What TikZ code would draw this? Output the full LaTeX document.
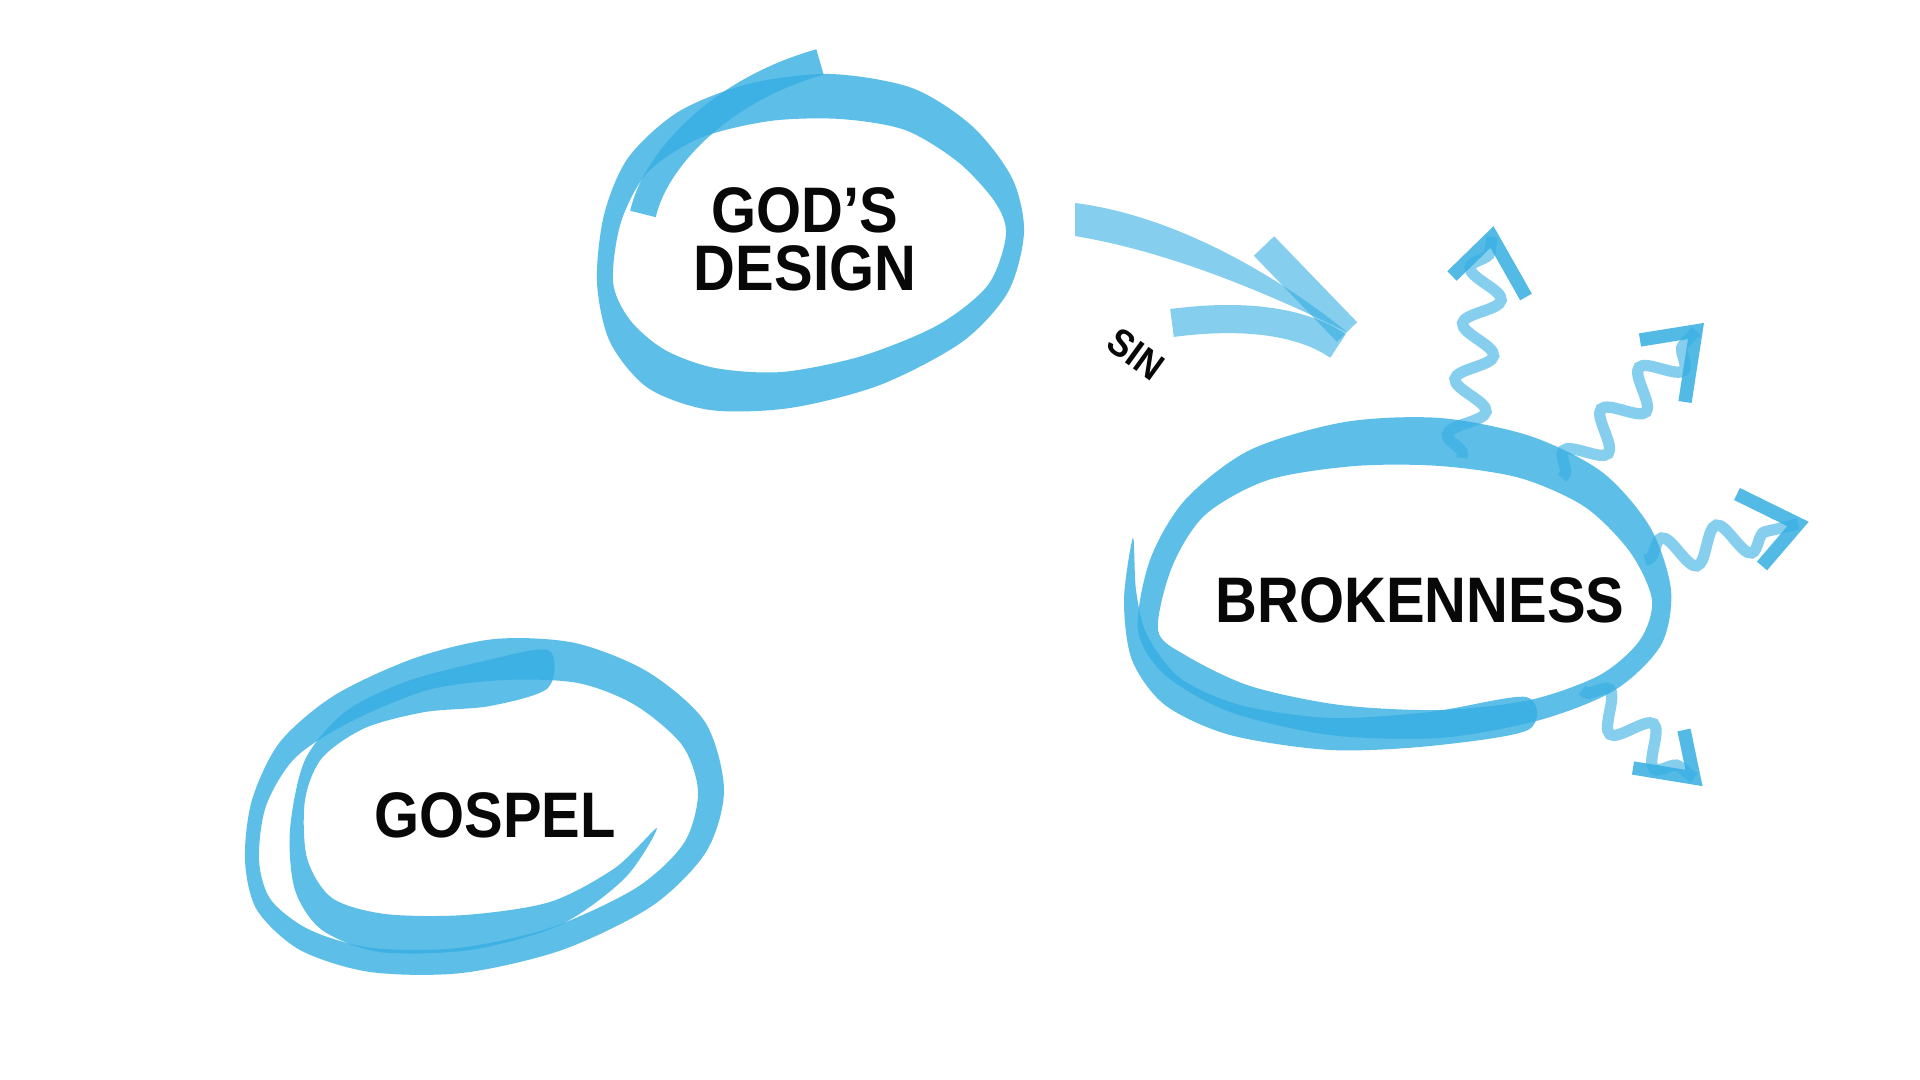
\documentclass[tikz,border=0pt]{standalone}
\usepackage{fontspec}
\newfontfamily\labelfont{Liberation Sans}[FakeStretch=0.9]
\usetikzlibrary{decorations.pathmorphing}
\definecolor{brushBlue}{RGB}{53,174,226}
\definecolor{labelInk}{RGB}{8,8,8}
\tikzset{
  ringfill/.style={fill=brushBlue, fill opacity=0.8, even odd rule},
  ringtail/.style={fill=brushBlue, fill opacity=0.8},
  tailstroke/.style={draw=brushBlue, draw opacity=0.8, line width=7.5pt},
  sinfill/.style={fill=brushBlue, fill opacity=0.6},
  sinbrush/.style={draw=brushBlue, draw opacity=0.6, line width=8pt},
  squiggle/.style={draw=brushBlue, draw opacity=0.6, line width=3.2pt, decorate,
    decoration={snake, amplitude=5pt, segment length=16pt, pre length=1pt, post length=4pt}},
  wavehead/.style={draw=brushBlue, draw opacity=0.85, line width=3.8pt, line join=miter},
  biglabel/.style={font=\labelfont\bfseries\fontsize{18.3}{16.5}\selectfont, text=labelInk, inner sep=0pt, align=center},
  smalllabel/.style={font=\labelfont\bfseries\fontsize{11}{13}\selectfont, text=labelInk, inner sep=0pt}
}

\begin{document}
\begin{tikzpicture}[x=0.01cm, y=-0.01cm]
  \fill[white] (0,0) rectangle (1920,1080);
  \useasboundingbox (0,0) rectangle (1920,1080);

  % labels
  \node[biglabel] (design) at (805,239) {GOD’S\\DESIGN};
  \node[biglabel, anchor=base] (broken) at (1420,623) {BROKENNESS};
  \node[biglabel, anchor=base] (gospel) at (495,838) {GOSPEL};
  \node[smalllabel, rotate=-36] (sin) at (1136,354) {SIN};

  % ring round god's design
  \fill[ringfill] plot[smooth cycle] coordinates {(597,282) (604,215) (628,158) (678,112) (748,84) (830,74) (912,88) (972,126) (1012,178) (1024,232) (1008,292) (962,342) (880,385) (790,408) (710,410) (648,388) (610,342)}
    plot[smooth cycle] coordinates {(613,282) (621,222) (648,172) (700,138) (770,121) (840,119) (905,130) (958,162) (995,202) (1006,235) (988,285) (938,325) (862,356) (782,372) (715,368) (665,350) (630,320)};
  \draw[tailstroke] (643,214) .. controls (655,160) and (720,90) .. (820,62);

  % ring round brokenness
  \fill[ringfill] plot[smooth cycle] coordinates {(1138,630) (1150,560) (1185,500) (1250,450) (1345,422) (1440,418) (1530,436) (1602,472) (1650,527) (1671,590) (1661,645) (1615,690) (1540,720) (1440,738) (1330,735) (1230,712) (1165,675)}
    plot[smooth cycle] coordinates {(1158,630) (1172,567) (1205,515) (1268,480) (1355,466) (1440,466) (1520,478) (1585,507) (1630,552) (1652,600) (1640,640) (1600,675) (1530,700) (1440,710) (1340,705) (1250,686) (1185,655)};
  \fill[ringtail] plot[smooth cycle, tension=0.5] coordinates {(1133,538) (1124,600) (1132,660) (1165,705) (1230,735) (1330,750) (1430,746) (1528,730) (1526,697) (1430,712) (1330,718) (1240,705) (1180,678) (1147,635) (1136,590)};

  % rings round gospel
  \fill[ringfill] plot[smooth cycle] coordinates {(245,860) (252,800) (280,742) (335,695) (415,658) (495,639) (575,643) (648,672) (705,722) (724,790) (706,852) (652,906) (562,950) (462,973) (370,972) (300,950) (257,910)}
    plot[smooth cycle] coordinates {(259,860) (266,806) (295,758) (350,722) (428,690) (505,680) (578,683) (635,705) (682,745) (698,792) (684,843) (636,888) (550,928) (458,948) (372,948) (310,930) (271,900)};
  \fill[ringtail] plot[smooth cycle, tension=0.5] coordinates {(548,650) (480,662) (405,682) (345,712) (305,760) (290,830) (295,890) (322,930) (380,952) (470,950) (560,925) (625,878) (657,828) (615,868) (550,902) (465,915) (385,914) (332,898) (307,858) (305,800) (322,758) (365,728) (425,712) (490,706) (548,688)};

  % sin arrow
  \coordinate (sinStart) at (1075,219);
  \coordinate (sinTip) at (1347,332);
  \coordinate (sinTipLow) at (1338,346);
  \coordinate (sinArmA) at (1264,246);
  \coordinate (sinArmB) at (1172,323);
  \fill[sinfill] ([shift={(0,-16)}]sinStart) .. controls (1170,215) and (1270,270) .. (sinTip)
    .. controls (1265,292) and (1170,252) .. ([shift={(0,17)}]sinStart) -- cycle;
  \draw[sinbrush] (sinArmA) -- (sinTip);
  \draw[sinbrush] (sinArmB) .. controls (1240,314) and (1300,320) .. (sinTipLow);

  % wavy arrows out of brokenness
  \coordinate (w1s) at (1462,458);
  \coordinate (w1t) at (1492,237);
  \coordinate (w1a) at (1452,276);
  \coordinate (w1b) at (1526,297);
  \coordinate (w2s) at (1562,478);
  \coordinate (w2t) at (1696,331);
  \coordinate (w2a) at (1640,340);
  \coordinate (w2b) at (1685,402);
  \coordinate (w3s) at (1645,560);
  \coordinate (w3t) at (1798,524);
  \coordinate (w3a) at (1737,494);
  \coordinate (w3b) at (1762,566);
  \coordinate (w4s) at (1582,690);
  \coordinate (w4t) at (1694,778);
  \coordinate (w4a) at (1633,768);
  \coordinate (w4b) at (1684,730);
  \draw[squiggle] (w1s) -- (w1t);
  \draw[squiggle] (w2s) -- (w2t);
  \draw[squiggle] (w3s) -- (w3t);
  \draw[squiggle] (w4s) -- (w4t);
  \draw[wavehead] (w1a) -- (w1t) -- (w1b);
  \draw[wavehead] (w2a) -- (w2t) -- (w2b);
  \draw[wavehead] (w3a) -- (w3t) -- (w3b);
  \draw[wavehead] (w4a) -- (w4t) -- (w4b);
\end{tikzpicture}
\end{document}
